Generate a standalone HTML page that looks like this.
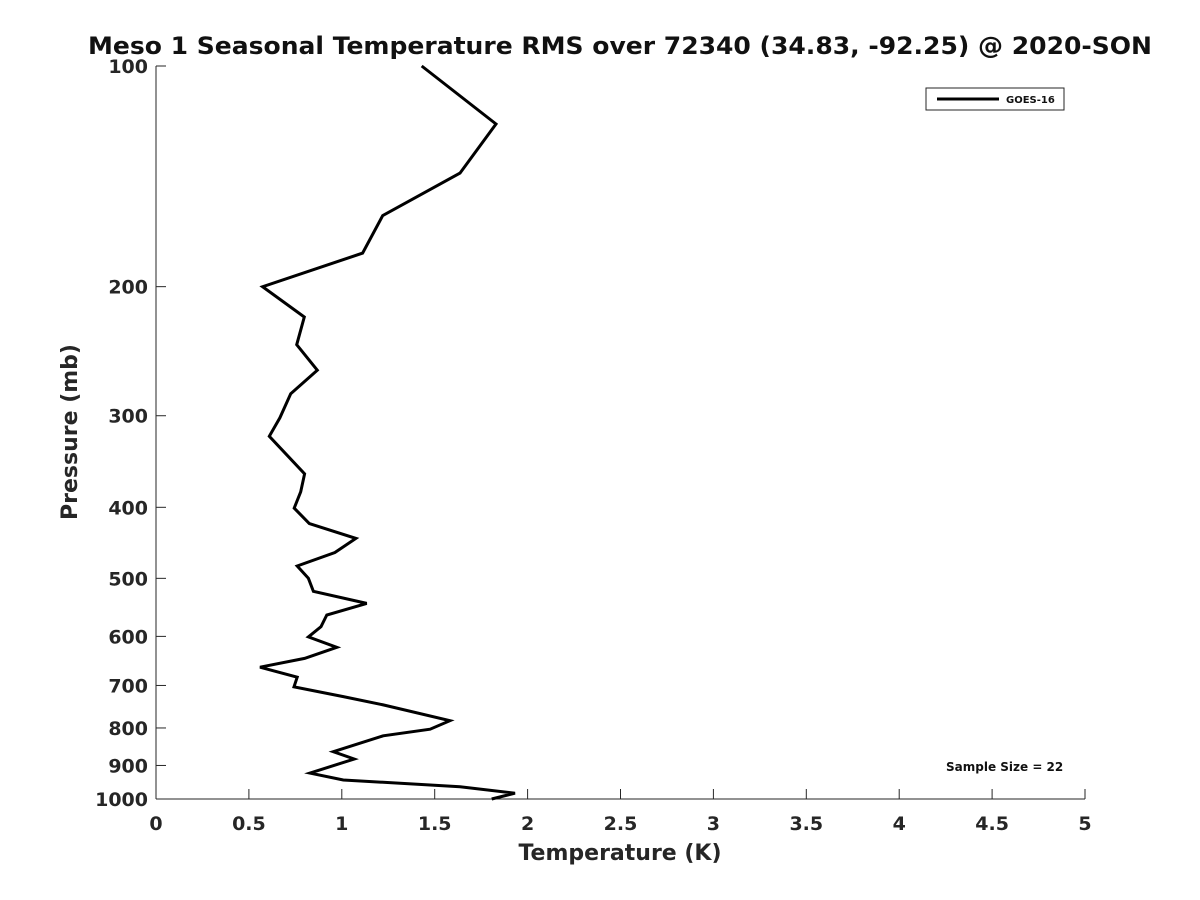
<!DOCTYPE html>
<html><head><meta charset="utf-8"><style>
html,body{margin:0;padding:0;background:#fff;}
svg{display:block;font-family:"DejaVu Sans","Liberation Sans",sans-serif;}
</style></head><body>
<svg id="chart" width="1200" height="900" viewBox="0 0 1200 900" xmlns="http://www.w3.org/2000/svg">
<rect width="1200" height="900" fill="#fff"/>
<text x="620" y="54" text-anchor="middle" font-size="24" font-weight="bold" fill="#111" textLength="1064" lengthAdjust="spacingAndGlyphs">Meso 1 Seasonal Temperature RMS over 72340 (34.83, -92.25) @ 2020-SON</text>
<g id="axes"></g>
<g id="series"></g>
<text x="620" y="860" text-anchor="middle" font-size="22" font-weight="bold" fill="#262626">Temperature (K)</text>
<text transform="translate(77,432) rotate(-90)" text-anchor="middle" font-size="22" font-weight="bold" fill="#262626">Pressure (mb)</text>
<g>
<rect x="926" y="88" width="138" height="22" fill="#fff" stroke="#262626" stroke-width="1"/>
<line x1="937" y1="99" x2="999" y2="99" stroke="#000" stroke-width="3"/>
<text x="1006" y="103" font-size="10" font-weight="bold" fill="#111">GOES-16</text>
</g>
<text x="946" y="771" font-size="12" font-weight="bold" fill="#111">Sample Size = 22</text>
</svg>
<script>
const temperature = [1.43,1.83,1.636,1.22,1.112,0.574,0.798,0.757,0.868,0.725,0.667,0.61,0.80,0.779,0.744,0.825,1.076,0.963,0.76,0.82,0.847,1.134,0.919,0.888,0.82,0.973,0.80,0.56,0.76,0.743,1.008,1.223,1.582,1.475,1.223,0.954,1.067,0.829,1.008,1.636,1.932,1.807];
const pressure = [100,120,140,160,180,200,220,240,260,280,302,320,360,381,401,421,441,461,481,500,521,541,561,582,601,621,643,661,682,703,725,744,782,803,820,862,882,922,942,962,982,1000];
const xTicks = [0,0.5,1,1.5,2,2.5,3,3.5,4,4.5,5];
const xTickLabels = ["0","0.5","1","1.5","2","2.5","3","3.5","4","4.5","5"];
const yTicks = [100,200,300,400,500,600,700,800,900,1000];
const yTickLabels = ["100","200","300","400","500","600","700","800","900","1000"];

const NS = "http://www.w3.org/2000/svg";
const X0 = 156, X1 = 1085, Y0 = 66, Y1 = 799;
function xs(v){ return X0 + (v - 0) / (5 - 0) * (X1 - X0); }
function ys(p){ return Y0 + (Math.log10(p) - 2) / 1 * (Y1 - Y0); }
function mk(tag, attrs){ const e = document.createElementNS(NS, tag); for (const k in attrs) e.setAttribute(k, attrs[k]); return e; }

const axes = document.getElementById("axes");
const xAxis = mk("line", {x1:X0, y1:Y1, x2:X1, y2:Y1, stroke:"#262626", "stroke-width":1});


axes.appendChild(xAxis);
const yAxis = mk("line", {x1:X0, y1:Y0, x2:X0, y2:Y1, stroke:"#262626", "stroke-width":1});


axes.appendChild(yAxis);

xTicks.forEach((v, i) => {
  const x = xs(v);
  const t = mk("line", {x1:x, y1:Y1, x2:x, y2:Y1 - 10, stroke:"#262626", "stroke-width":1});
  
  
  axes.appendChild(t);
  const l = mk("text", {x:x, y:Y1 + 31, "text-anchor":"middle", "font-size":19, "font-weight":"bold", fill:"#262626"});
  l.textContent = xTickLabels[i];
  
  
  axes.appendChild(l);
});
yTicks.forEach((p, i) => {
  const y = ys(p);
  const t = mk("line", {x1:X0, y1:y, x2:X0 + 10, y2:y, stroke:"#262626", "stroke-width":1});
  
  
  axes.appendChild(t);
  const l = mk("text", {x:X0 - 8, y:y + 7, "text-anchor":"end", "font-size":19, "font-weight":"bold", fill:"#262626"});
  l.textContent = yTickLabels[i];
  
  
  axes.appendChild(l);
});

const pts = temperature.map((t, i) => xs(t).toFixed(1) + "," + ys(pressure[i]).toFixed(1)).join(" ");
const line = mk("polyline", {points:pts, fill:"none", stroke:"#000", "stroke-width":3, "stroke-linejoin":"miter"});


document.getElementById("series").appendChild(line);
</script>
</body></html>
